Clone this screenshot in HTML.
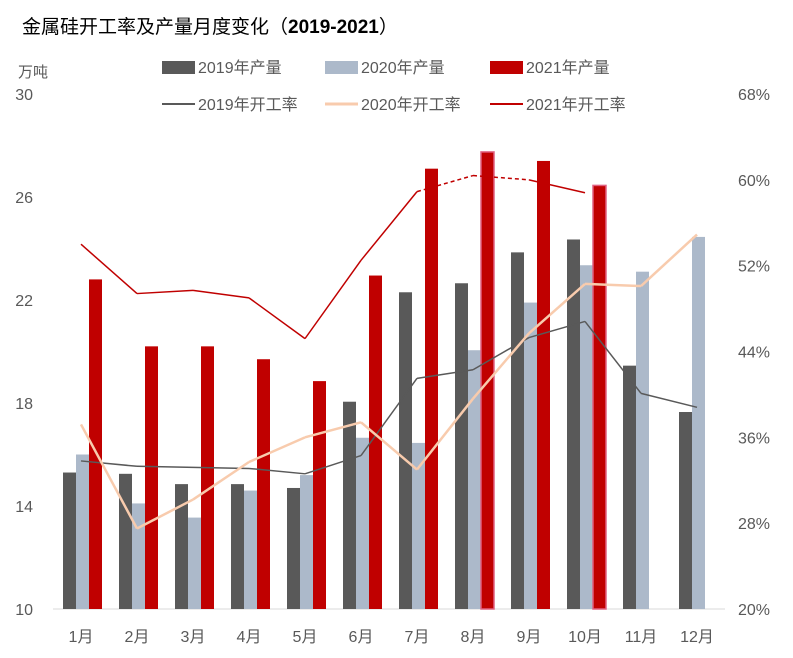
<!DOCTYPE html>
<html><head><meta charset="utf-8"><style>
body{margin:0;background:#fff;}
svg text{font-family:"Liberation Sans","Noto Sans CJK SC",sans-serif;}
</style></head><body>
<svg width="793" height="653" xmlns="http://www.w3.org/2000/svg">
<rect width="793" height="653" fill="#fff"/>
<text x="22" y="33" font-size="19" fill="#000">金属硅开工率及产量月度变化（<tspan font-weight="bold">2019-2021</tspan>）</text>
<text x="18" y="77" font-size="15" fill="#595959">万吨</text>
<g id="legend"></g>
<g id="axes"></g>
<g id="bars"></g>
<g id="lines"></g>
</svg>
<script>
const months=["1月","2月","3月","4月","5月","6月","7月","8月","9月","10月","11月","12月"];
const prod2019=[15.3,15.25,14.85,14.85,14.7,18.05,22.3,22.65,23.85,24.35,19.45,17.65];
const prod2020=[16.0,14.1,13.55,14.6,15.2,16.65,16.45,20.05,21.9,23.35,23.1,24.45];
const prod2021=[22.8,20.2,20.2,19.7,18.85,22.95,27.1,27.75,27.4,26.45];
const rate2019=[33.8,33.3,33.2,33.1,32.6,34.3,41.5,42.3,45.3,46.8,40.1,38.8];
const rate2020=[37.2,27.5,30.2,33.7,36.0,37.4,33.0,39.6,45.7,50.3,50.1,54.9];
const rate2021=[54.0,49.4,49.7,49.0,45.2,52.5,58.9,60.4,60.0,58.8];
const leftTicks=[10,14,18,22,26,30];
const rightTicks=[20,28,36,44,52,60,68];
const NS="http://www.w3.org/2000/svg";
const X0=53,X1=725,Y0=609,Y1=94;
const bw=(X1-X0)/months.length;
const xc=i=>X0+bw*(i+0.5);
const yL=v=>Y0-(v-10)/20*(Y0-Y1);
const yR=v=>Y0-(v-20)/48*(Y0-Y1);
function mk(tag,attrs,parent,txt){const e=document.createElementNS(NS,tag);for(const k in attrs)e.setAttribute(k,attrs[k]);if(txt!==undefined)e.textContent=txt;parent.appendChild(e);return e;}
const axes=document.getElementById('axes');
mk('line',{x1:X0,y1:Y0,x2:X1,y2:Y0,stroke:'#d9d9d9'},axes);
for(const t of leftTicks){const e=mk('text',{x:33,y:yL(t)+6,'font-size':16,fill:'#595959','text-anchor':'end'},axes,t);

}
for(const t of rightTicks){const e=mk('text',{x:738,y:yR(t)+6,'font-size':16,fill:'#595959'},axes,t+'%');

}
months.forEach((m,i)=>{const e=mk('text',{x:xc(i),y:642,'font-size':16,fill:'#595959','text-anchor':'middle'},axes,m);

});
const bars=document.getElementById('bars');
const series=[[prod2019,'#595959',-18,'bar-2019'],[prod2020,'#acb9ca',-5,'bar-2020'],[prod2021,'#c00000',8,'bar-2021']];
for(const [arr,col,off,nm] of series){arr.forEach((v,i)=>{const y=yL(v);
const attrs={x:xc(i)+off,y:y,width:13,height:Y0-y,fill:col};
if(nm==='bar-2021'&&(i===7||i===9)){attrs.stroke='#e06080';attrs['stroke-width']=1.5;}
const r=mk('rect',attrs,bars);

});}
const lines=document.getElementById('lines');
function line(arr,col,nm,w,dashFrom,dashTo){
 const pts=arr.map((v,i)=>[xc(i),yR(v)]);
 for(let i=0;i<pts.length-1;i++){
  const a={x1:pts[i][0],y1:pts[i][1],x2:pts[i+1][0],y2:pts[i+1][1],stroke:col,'stroke-width':w};
  if(dashFrom!==undefined&&i>=dashFrom&&i<dashTo)a['stroke-dasharray']='4,3';
  const l=mk('line',a,lines);
  
  
 }}
line(rate2019,'#595959','line-2019-rate',1.5);
line(rate2020,'#f8cbad','line-2020-rate',2.5);
line(rate2021,'#c00000','line-2021-rate',1.5,6,8);
const lg=document.getElementById('legend');
const items=[[162,67,'rect','#595959','2019年产量'],[325,67,'rect','#acb9ca','2020年产量'],[490,67,'rect','#c00000','2021年产量'],
[162,104,'line','#595959','2019年开工率'],[325,104,'line','#f8cbad','2020年开工率'],[490,104,'line','#c00000','2021年开工率']];
for(const [x,y,t,c,label] of items){
 const g=mk('g',{},lg);
 
 
 if(t==='rect')mk('rect',{x:x,y:y-6,width:33,height:13,fill:c},g);
 else mk('line',{x1:x,y1:y,x2:x+33,y2:y,stroke:c,'stroke-width':c==='#f8cbad'?3:2},g);
 mk('text',{x:x+36,y:y+6,'font-size':16,fill:'#595959'},g,label);
}
</script>
</body></html>
